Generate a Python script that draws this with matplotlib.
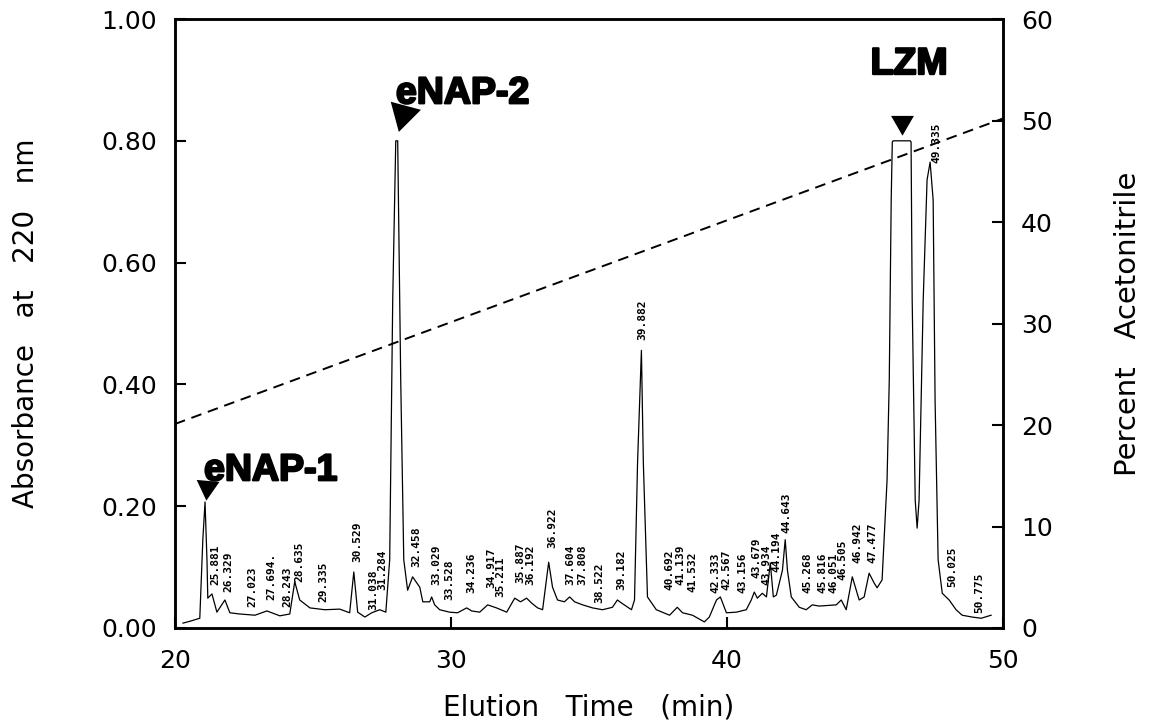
# HPLC chromatogram: eNAP-1, eNAP-2, LZM with acetonitrile gradient
import matplotlib.pyplot as plt
import matplotlib.patheffects as pe

# ---------------------------
# Data
# ---------------------------
time_min = [20.29, 20.54, 20.83, 20.90, 21.01, 21.09, 21.16, 21.19, 21.34, 21.52,
            21.81, 21.99, 22.35, 22.90, 23.33, 23.80, 24.16, 24.34, 24.52, 24.89,
            25.43, 25.97, 26.33, 26.48, 26.62, 26.88, 27.13, 27.42, 27.64, 27.78,
            27.89, 28.00, 28.07, 28.18, 28.29, 28.43, 28.61, 28.87, 28.98, 29.23,
            29.30, 29.41, 29.59, 29.95, 30.24, 30.57, 30.75, 31.04, 31.33, 31.65,
            32.02, 32.31, 32.52, 32.74, 32.92, 33.14, 33.32, 33.54, 33.68, 33.86,
            34.11, 34.30, 34.48, 34.77, 35.13, 35.49, 35.85, 36.03, 36.18, 36.54,
            36.65, 36.76, 36.90, 36.97, 37.12, 37.44, 37.92, 38.20, 38.39, 38.75,
            39.18, 39.36, 39.62, 39.76, 39.98, 40.34, 40.70, 40.88, 40.99, 41.10,
            41.28, 41.43, 41.57, 41.68, 41.79, 42.01, 42.11, 42.19, 42.33, 42.62,
            42.87, 43.09, 43.34, 43.96, 44.14, 44.32, 44.54, 44.79, 44.97, 45.15,
            45.33, 45.44, 45.62, 45.80, 45.88, 45.95, 45.99, 46.02, 46.64, 46.67,
            46.71, 46.82, 46.89, 46.96, 47.11, 47.25, 47.36, 47.47, 47.54, 47.65,
            47.80, 48.05, 48.30, 48.52, 48.88, 49.21, 49.57]
absorbance = [0.008, 0.011, 0.015, 0.016, 0.145, 0.207, 0.112, 0.049, 0.056, 0.026,
              0.046, 0.025, 0.023, 0.021, 0.028, 0.020, 0.023, 0.076, 0.046, 0.033,
              0.030, 0.031, 0.025, 0.092, 0.026, 0.018, 0.025, 0.030, 0.026, 0.112,
              0.539, 0.800, 0.800, 0.407, 0.112, 0.062, 0.084, 0.067, 0.043, 0.043,
              0.051, 0.038, 0.030, 0.026, 0.025, 0.033, 0.028, 0.026, 0.038, 0.033,
              0.026, 0.049, 0.043, 0.049, 0.041, 0.033, 0.030, 0.108, 0.067, 0.046,
              0.043, 0.051, 0.043, 0.038, 0.033, 0.030, 0.034, 0.046, 0.041, 0.030,
              0.046, 0.271, 0.456, 0.271, 0.051, 0.030, 0.021, 0.034, 0.025, 0.021,
              0.010, 0.018, 0.046, 0.051, 0.025, 0.026, 0.030, 0.046, 0.059, 0.049,
              0.057, 0.051, 0.107, 0.051, 0.054, 0.095, 0.145, 0.095, 0.051, 0.034,
              0.030, 0.038, 0.036, 0.038, 0.046, 0.030, 0.084, 0.046, 0.051, 0.090,
              0.074, 0.066, 0.079, 0.243, 0.407, 0.703, 0.798, 0.800, 0.800, 0.798,
              0.539, 0.210, 0.164, 0.210, 0.539, 0.736, 0.765, 0.703, 0.374, 0.112,
              0.057, 0.046, 0.030, 0.021, 0.018, 0.016, 0.021]

# acetonitrile gradient (%), right axis
gradient_t = [20.0, 50.0]
gradient_pct = [20.1, 50.2]

# retention-time labels printed by the integrator
rt_labels = ["25.881", "26.329", "27.023", "27.694.", "28.243", "28.635", "29.335",
             "30.529", "31.038", "31.284", "32.458", "33.029", "33.528", "34.236",
             "34.917", "35.211", "35.887", "36.192", "36.922", "37.604", "37.808",
             "38.522", "39.182", "39.882", "40.692", "41.139", "41.532", "42.333",
             "42.567", "43.156", "43.679", "43.934", "44.194", "44.643", "45.268",
             "45.816", "46.051", "46.505", "46.942", "47.477", "49.335", "50.025",
             "50.775"]
rt_x = [21.45, 21.92, 22.79, 23.51, 24.09, 24.52, 25.36, 26.59, 27.20, 27.52,
        28.76, 29.48, 29.95, 30.75, 31.45, 31.80, 32.50, 32.87, 33.68, 34.31,
        34.75, 35.38, 36.18, 36.94, 37.92, 38.31, 38.75, 39.58, 39.98, 40.56,
        41.06, 41.42, 41.78, 42.15, 42.91, 43.46, 43.86, 44.20, 44.72, 45.26,
        47.58, 48.16, 49.13]
rt_y = [0.071, 0.059, 0.034, 0.046, 0.034, 0.076, 0.043, 0.108, 0.030, 0.062,
        0.100, 0.071, 0.046, 0.057, 0.066, 0.051, 0.074, 0.071, 0.131, 0.071,
        0.071, 0.041, 0.062, 0.473, 0.062, 0.071, 0.059, 0.057, 0.062, 0.057,
        0.082, 0.071, 0.092, 0.156, 0.057, 0.057, 0.057, 0.079, 0.107, 0.107,
        0.764, 0.067, 0.025]

# named peaks
peak_names = ["eNAP-1", "eNAP-2", "LZM"]
name_x = [23.47, 30.42, 46.60]
name_y = [0.259, 0.878, 0.926]
arrow_x = [21.16, 28.25, 46.35]
arrow_y = [0.232, 0.844, 0.831]
arrow_rot = [175, 165, 180]
arrow_ms = [19, 26, 19]

# ---------------------------
# Figure
# ---------------------------
fig = plt.figure(figsize=(11.51, 7.23), dpi=100)
ax = fig.add_axes([0.152, 0.1314, 0.7194, 0.8423])
ax2 = ax.twinx()

ax.plot(time_min, absorbance, color="black", lw=0.9)
ax2.plot(gradient_t, gradient_pct, color="black", lw=1.4, ls=(0, (5.5, 3.5)))

ax.set_xlim(20, 50)
ax.set_ylim(0, 1.0)
ax2.set_ylim(0, 60)

tick_font = dict(family="DejaVu Sans", size=18)
ax.set_xticks([20, 30, 40, 50])
ax.set_xticklabels(["20", "30", "40", "50"], fontdict=tick_font)
ax.set_yticks([0, 0.2, 0.4, 0.6, 0.8, 1.0])
ax.set_yticklabels(["0.00", "0.20", "0.40", "0.60", "0.80", "1.00"], fontdict=tick_font)
ax2.set_yticks([0, 10, 20, 30, 40, 50, 60])
ax2.set_yticklabels(["0", "10", "20", "30", "40", "50", "60"], fontdict=tick_font)

ax.tick_params(axis="both", direction="in", length=8, width=1.5)
ax.tick_params(axis="x", pad=15)
ax.tick_params(axis="y", pad=13)
ax2.tick_params(axis="y", direction="in", length=8, width=1.5, pad=13)

for a in (ax, ax2):
    for s in a.spines.values():
        s.set_linewidth(1.8)

ax.set_xlabel("Elution   Time   (min)", fontsize=20, labelpad=15)
ax.set_ylabel("Absorbance   at   220   nm", fontsize=20, labelpad=44)
ax2.set_ylabel("Percent   Acetonitrile", fontsize=21, labelpad=44)

# retention time labels (rotated)
for lab, x, y in zip(rt_labels, rt_x, rt_y):
    ax.text(x, y, lab, rotation=90, ha="center", va="bottom",
            family="DejaVu Sans Mono", fontweight="bold", fontsize=8)

# peak names and arrow heads
for name, x, y in zip(peak_names, name_x, name_y):
    ax.text(x, y, name, ha="center", va="center", family="Liberation Sans",
            fontweight="bold", fontsize=27,
            path_effects=[pe.withStroke(linewidth=1.6, foreground="black")])
for x, y, r, ms in zip(arrow_x, arrow_y, arrow_rot, arrow_ms):
    ax.plot([x], [y], marker=(3, 0, r), ms=ms, color="black", mew=0)

fig.savefig("out.png", dpi=100)
